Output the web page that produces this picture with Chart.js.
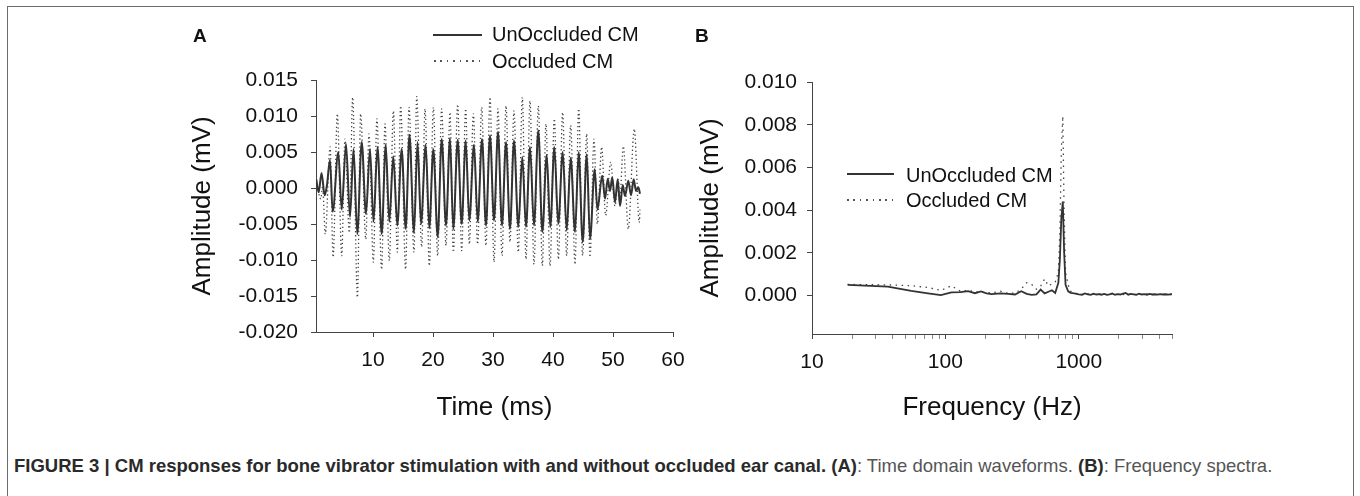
<!DOCTYPE html>
<html>
<head>
<meta charset="utf-8">
<title>Figure 3 - CM responses</title>
<script src="https://cdn.jsdelivr.net/npm/chart.js@4.4.1/dist/chart.umd.min.js"></script>
<style>
  html, body { margin: 0; padding: 0; background: #fff; }
  body {
    width: 1360px; height: 496px; overflow: hidden; position: relative;
    font-family: 'Liberation Sans', Arial, sans-serif; color: #111;
  }
  .frame {
    position: absolute; left: 7px; top: 6px; width: 1345px; height: 520px;
    border: 1px solid #6b6b6b;
  }
  .panel { position: absolute; top: 0; }
  .tag { position: absolute; font-weight: bold; font-size: 19px; line-height: 19px; }
  .key { position: absolute; font-size: 20px; line-height: 20px; white-space: nowrap; }
  .swatch { position: absolute; height: 2px; }
  .swatch.solid { background: #333; }
  .swatch.dotted {
    background: repeating-linear-gradient(90deg, #555 0 1.5px, transparent 1.5px 6.4px);
  }
  .caption {
    position: absolute; left: 14px; top: 457px; font-size: 18.5px; line-height: 18.5px;
    white-space: nowrap; color: #555;
  }
  .caption b { color: #2a2a2a; }
</style>
</head>
<body>
<div class="frame"></div>

<canvas id="chart-a" class="panel" width="520" height="430" style="left:180px"></canvas>
<canvas id="chart-b" class="panel" width="510" height="430" style="left:690px"></canvas>

<div class="tag" style="left:193px; top:26px">A</div>
<div class="tag" style="left:695px; top:26px">B</div>

<!-- legend, panel A -->
<div class="swatch solid" style="left:433px; top:34px; width:49px"></div>
<div class="key" style="left:492px; top:24px">UnOccluded CM</div>
<div class="swatch dotted" style="left:434px; top:60px; width:46px"></div>
<div class="key" style="left:492px; top:51px">Occluded CM</div>

<!-- legend, panel B -->
<div class="swatch solid" style="left:847px; top:173px; width:47px"></div>
<div class="key" style="left:906px; top:165px">UnOccluded CM</div>
<div class="swatch dotted" style="left:847px; top:199px; width:46px"></div>
<div class="key" style="left:906px; top:190px">Occluded CM</div>

<div class="caption"><b>FIGURE 3 | CM responses for bone vibrator stimulation with and without occluded ear canal. (A)</b>: Time domain waveforms. <b>(B)</b>: Frequency spectra.</div>

<script>
// ---- panel A: time domain (ms, mV) ----
const unoccTime = [0.55, 0.95, 1.42, 1.95, 2.33, 2.83, 3.28, 4.22, 4.78, 5.5, 6.17, 6.75, 7.38, 8.12, 8.83, 9.5,
  10.08, 10.75, 11.45, 12.12, 12.72, 13.38, 14.05, 14.78, 15.45, 16.08, 16.83, 17.42, 18.0, 18.78, 19.38,
  20.05, 20.78, 21.45, 22.17, 22.83, 23.38, 24.12, 24.78, 25.45, 26.05, 26.83, 27.45, 28.17, 28.83, 29.5,
  30.17, 30.83, 31.5, 32.17, 32.83, 33.5, 34.22, 34.88, 35.5, 36.17, 36.83, 37.55, 38.22, 38.95, 39.55,
  40.22, 40.88, 41.62, 42.28, 42.95, 43.67, 44.28, 44.95, 45.62, 46.17, 46.95, 47.4, 48.2, 48.67, 49.12,
  49.5, 49.88, 50.33, 50.78, 51.17, 51.62, 52.0, 52.55, 53.0, 53.45, 53.83, 54.22, 54.5];
const unoccAmp = [0.0012, -0.0006, 0.0021, -0.0010, 0.0004, 0.0039, -0.0033, 0.0050, -0.0030, 0.0061, -0.0040,
  0.0054, -0.0064, 0.0064, -0.0036, 0.0054, -0.0047, 0.0057, -0.0064, 0.0060, -0.0047, 0.0044, -0.0052,
  0.0054, -0.0057, 0.0074, -0.0062, 0.0064, -0.0050, 0.0060, -0.0056, 0.0054, -0.0068, 0.0068, -0.0052,
  0.0069, -0.0057, 0.0067, -0.0050, 0.0066, -0.0045, 0.0060, -0.0047, 0.0068, -0.0052, 0.0073, -0.0045,
  0.0078, -0.0052, 0.0064, -0.0057, 0.0066, -0.0054, 0.0043, -0.0054, 0.0057, -0.0052, 0.0080, -0.0061,
  0.0046, -0.0054, 0.0057, -0.0050, 0.0050, -0.0059, 0.0042, -0.0061, 0.0050, -0.0075, 0.0047, -0.0071,
  0.0026, -0.0030, 0.0017, -0.0015, 0.0013, -0.0004, 0.0015, -0.0020, 0.0012, -0.0025, 0.0004, -0.0011,
  0.0010, -0.0010, 0.0012, -0.0004, 0.0001, -0.0008];

const occTime = [0.55, 1.3, 1.6, 2.05, 2.85, 3.35, 4.06, 4.78, 5.33, 6.06, 6.61, 7.4, 7.94, 8.8, 9.33,
  10.06, 10.65, 11.44, 12.0, 12.72, 13.39, 14.06, 14.61, 15.44, 16.0, 16.83, 17.28, 18.11, 18.67, 19.39,
  20.06, 20.78, 21.44, 22.17, 22.83, 23.39, 24.11, 24.78, 25.44, 26.06, 26.72, 27.44, 28.11, 28.83, 29.5,
  30.17, 30.83, 31.5, 32.17, 32.83, 33.5, 34.22, 34.89, 35.5, 36.17, 36.83, 37.56, 38.22, 38.83, 39.5,
  40.22, 40.89, 41.61, 42.28, 42.94, 43.67, 44.28, 44.94, 45.61, 46.17, 46.83, 47.39, 48.11, 48.78,
  49.61, 50.33, 50.9, 51.1, 51.72, 52.55, 53.55, 54.38, 54.5];
const occAmp = [0.0008, -0.0015, 0.0002, -0.0064, 0.0057, -0.0096, 0.0103, -0.0094, 0.0068, -0.0062, 0.0126,
  -0.0152, 0.0103, -0.0071, 0.0075, -0.0103, 0.0096, -0.0113, 0.0089, -0.0101, 0.0107, -0.0089, 0.0114,
  -0.0113, 0.0112, -0.0089, 0.0127, -0.0082, 0.0110, -0.0108, 0.0112, -0.0094, 0.0110, -0.0080, 0.0105,
  -0.0089, 0.0116, -0.0087, 0.0110, -0.0078, 0.0103, -0.0078, 0.0112, -0.0080, 0.0126, -0.0103, 0.0110,
  -0.0094, 0.0114, -0.0075, 0.0107, -0.0089, 0.0126, -0.0099, 0.0121, -0.0106, 0.0114, -0.0108, 0.0089,
  -0.0108, 0.0096, -0.0099, 0.0105, -0.0094, 0.0087, -0.0106, 0.0110, -0.0094, 0.0075, -0.0096, 0.0068,
  -0.0050, 0.0057, -0.0038, 0.0036, -0.0025, 0.0012, -0.0022, 0.0058, -0.0057, 0.0082, -0.0048, -0.0030];

const timeTicks = [10, 20, 30, 40, 50, 60];
const ampTicksA = [-0.020, -0.015, -0.010, -0.005, 0.000, 0.005, 0.010, 0.015];

// ---- panel B: spectra (Hz, mV) ----
const freqHz = [18.5, 37, 55.5, 74, 92.5, 111, 129.5, 148, 166.5, 185, 203.5, 222, 259, 296, 333, 370, 407,
  444, 481, 518, 555, 592, 629, 666, 703, 722, 740, 759, 777, 796, 833, 870, 925, 1000, 1060, 1110, 1170,
  1230, 1290, 1350, 1420, 1480, 1550, 1630, 1700, 1780, 1870, 1960, 2050, 2150, 2250, 2350, 2460, 2580,
  2700, 2830, 2960, 3100, 3250, 3400, 3560, 3730, 3900, 4090, 4280, 4480, 4700, 4920, 5000];
const unoccSpec = [0.00050, 0.00042, 0.00022, 0.00010, 0.00002, 0.00015, 0.00016, 0.00021, 0.00011, 0.00019,
  0.00010, 0.00007, 0.00010, 0.00008, 0.00005, 0.00020, 0.00008, 0.00003, 0.00006, 0.00028, 0.00010,
  0.00018, 0.00025, 0.00012, 0.00060, 0.00170, 0.00360, 0.00440, 0.00200, 0.00050, 0.00020, 0.00012,
  0.00010, 0.00006, 0.00004, 0.00010, 0.00006, 0.00003, 0.00009, 0.00005, 0.00007, 0.00004, 0.00008,
  0.00003, 0.00006, 0.00010, 0.00004, 0.00007, 0.00005, 0.00009, 0.00012, 0.00004, 0.00008, 0.00006,
  0.00003, 0.00009, 0.00005, 0.00007, 0.00004, 0.00008, 0.00005, 0.00006, 0.00004, 0.00007, 0.00005,
  0.00006, 0.00004, 0.00007, 0.00006];
const occSpec = [0.00052, 0.00050, 0.00046, 0.00038, 0.00024, 0.00046, 0.00020, 0.00024, 0.00018, 0.00016,
  0.00014, 0.00012, 0.00020, 0.00010, 0.00012, 0.00030, 0.00060, 0.00052, 0.00030, 0.00045, 0.00078,
  0.00045, 0.00055, 0.00062, 0.00110, 0.00300, 0.00680, 0.00840, 0.00380, 0.00110, 0.00050, 0.00020,
  0.00012, 0.00008, 0.00006, 0.00005, 0.00009, 0.00004, 0.00007, 0.00006, 0.00008, 0.00005, 0.00006,
  0.00004, 0.00008, 0.00007, 0.00005, 0.00006, 0.00009, 0.00005, 0.00010, 0.00006, 0.00005, 0.00008,
  0.00004, 0.00007, 0.00006, 0.00005, 0.00008, 0.00006, 0.00004, 0.00007, 0.00005, 0.00006, 0.00008,
  0.00004, 0.00006, 0.00005, 0.00006];

const freqTicks = [10, 20, 30, 40, 50, 60, 70, 80, 90, 100, 200, 300, 400, 500, 600, 700, 800, 900,
  1000, 2000, 3000, 4000, 5000];
const freqLabels = [10, 100, 1000];
const ampTicksB = [0.000, 0.002, 0.004, 0.006, 0.008, 0.010];

const INK = '#111';
const AXIS = '#444';

Chart.defaults.font.family = "'Liberation Sans', Arial, sans-serif";
Chart.defaults.color = INK;

function toPoints(xs, ys) {
  return xs.map((x, i) => ({ x, y: ys[i] }));
}

// shared look of both axes: outward ticks, no grid inside the plot
function axisBase(extra) {
  return Object.assign({
    grid: { drawOnChartArea: false, drawTicks: true, tickLength: 5, tickColor: AXIS },
    border: { display: true, color: AXIS, width: 1 },
  }, extra);
}

function renderTimePanel() {
  new Chart(document.getElementById('chart-a'), {
    type: 'line',
    data: {
      datasets: [
        { label: 'UnOccluded CM', data: toPoints(unoccTime, unoccAmp), borderColor: '#333',
          borderWidth: 2, pointRadius: 0, cubicInterpolationMode: 'monotone' },
        { label: 'Occluded CM', data: toPoints(occTime, occAmp), borderColor: '#444',
          borderWidth: 1.3, borderDash: [1.3, 2.7], pointRadius: 0, cubicInterpolationMode: 'monotone' },
      ],
    },
    options: {
      responsive: false, animation: false, events: [],
      layout: { padding: { top: 80, right: 27, left: 0, bottom: 0 } },
      plugins: { legend: { display: false }, tooltip: { enabled: false } },
      scales: {
        x: axisBase({
          type: 'linear', min: 0.5, max: 60,
          afterBuildTicks: s => { s.ticks = timeTicks.map(v => ({ value: v })); },
          afterFit: s => { s.height = 98; },
          ticks: { font: { size: 21 }, padding: 11, maxRotation: 0, autoSkip: false },
          title: { display: true, text: 'Time (ms)', font: { size: 26 }, padding: { top: 0, bottom: 7 } },
        }),
        y: axisBase({
          type: 'linear', min: -0.020, max: 0.015,
          afterBuildTicks: s => { s.ticks = ampTicksA.map(v => ({ value: v })); },
          afterFit: s => { s.width = 136; },
          ticks: { font: { size: 21 }, padding: 13, callback: v => v.toFixed(3) },
          title: { display: true, text: 'Amplitude (mV)', font: { size: 26 }, padding: { top: 7, bottom: 0 } },
        }),
      },
    },
  });
}

function renderSpectrumPanel() {
  new Chart(document.getElementById('chart-b'), {
    type: 'line',
    data: {
      datasets: [
        { label: 'UnOccluded CM', data: toPoints(freqHz, unoccSpec), borderColor: '#333',
          borderWidth: 1.8, pointRadius: 0, tension: 0 },
        { label: 'Occluded CM', data: toPoints(freqHz, occSpec), borderColor: '#444',
          borderWidth: 1.3, borderDash: [1.5, 4.5], pointRadius: 0, tension: 0 },
      ],
    },
    options: {
      responsive: false, animation: false, events: [],
      layout: { padding: { top: 82, right: 28, left: 0, bottom: 0 } },
      plugins: { legend: { display: false }, tooltip: { enabled: false } },
      scales: {
        x: axisBase({
          type: 'logarithmic', min: 10, max: 5000,
          afterBuildTicks: s => { s.ticks = freqTicks.map(v => ({ value: v })); },
          afterFit: s => { s.height = 96; },
          grid: {
            drawOnChartArea: false, tickLength: 5,
            tickColor: c => (c.tick && freqLabels.includes(c.tick.value)) ? AXIS : '#8a8a8a',
          },
          ticks: {
            font: { size: 21 }, padding: 11, maxRotation: 0, autoSkip: false,
            callback: v => freqLabels.includes(v) ? String(v) : '',
          },
          title: { display: true, text: 'Frequency (Hz)', font: { size: 26 }, padding: { top: 0, bottom: 7 } },
        }),
        y: axisBase({
          type: 'linear', min: -0.0018, max: 0.010,
          afterBuildTicks: s => { s.ticks = ampTicksB.map(v => ({ value: v })); },
          afterFit: s => { s.width = 122; },
          ticks: { font: { size: 21 }, padding: 10, callback: v => v.toFixed(3) },
          title: { display: true, text: 'Amplitude (mV)', font: { size: 26 }, padding: { top: 5, bottom: 0 } },
        }),
      },
    },
  });
}

renderTimePanel();
renderSpectrumPanel();
</script>
</body>
</html>
